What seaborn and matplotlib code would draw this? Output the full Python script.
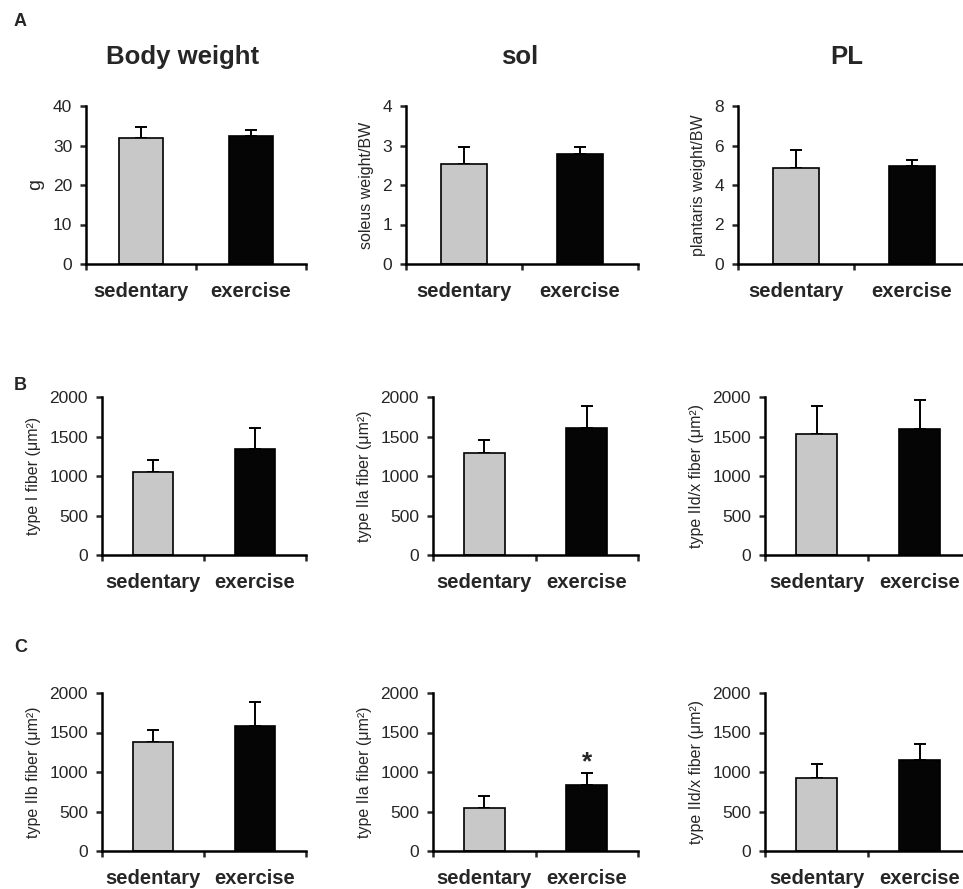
import pandas as pd
import seaborn as sns
import matplotlib.pyplot as plt

groups = ['sedentary', 'exercise']
bar_colors = ['#c8c8c8', '#050505']

# A: body weight and muscle weight / BW
bw_mean = [31.8, 32.5]
bw_err = [2.8, 1.3]
sol_mean = [2.53, 2.78]
sol_err = [0.43, 0.19]
pl_mean = [4.85, 4.98]
pl_err = [0.94, 0.27]

# B: fiber area, sol
solI_mean = [1047, 1346]
solI_err = [156, 266]
solIIa_mean = [1295, 1608]
solIIa_err = [161, 278]
solIIdx_mean = [1532, 1595]
solIIdx_err = [350, 363]

# C: fiber area, PL
plIIb_mean = [1380, 1586]
plIIb_err = [152, 300]
plIIa_mean = [548, 835]
plIIa_err = [152, 156]
plIIdx_mean = [920, 1148]
plIIdx_err = [177, 206]

sns.set_style('white')
plt.rcParams['font.family'] = ['Liberation Sans', 'DejaVu Sans']

W, H = 963, 889
fig = plt.figure(figsize=(W / 100, H / 100), dpi=100)


def panel(box, mean, err, ylim, yticks, ylabel, ylabel_size=11.5):
    l, t, r, b = box
    ax = fig.add_axes([l / W, 1 - b / H, (r - l) / W, (b - t) / H])
    df = pd.DataFrame({'group': groups, 'value': mean})
    sns.barplot(data=df, x='group', y='value', hue='group', palette=bar_colors,
                edgecolor='black', linewidth=1.2, width=0.4, legend=False, ax=ax)
    ax.errorbar([0, 1], mean, yerr=[[0, 0], err], fmt='none', ecolor='black',
                elinewidth=1.4, capsize=4.5, capthick=1.4, zorder=0.8)
    ax.set_xlim(-0.5, 1.5)
    ax.set_ylim(*ylim)
    ax.set_yticks(yticks)
    ax.set_xticks([0, 1])
    ax.set_xticklabels(groups, fontsize=14.5, fontweight='bold')
    ax.set_xticks([-0.5, 0.5, 1.5], minor=True)
    ax.tick_params(axis='x', which='major', length=0, pad=13)
    ax.tick_params(axis='x', which='minor', length=4, width=1.8, direction='out', bottom=True)
    ax.tick_params(axis='y', length=4, width=1.8, direction='out', left=True, labelsize=12.5, pad=6)
    ax.set_xlabel('')
    ax.set_ylabel(ylabel, fontsize=ylabel_size, labelpad=6)
    sns.despine(ax=ax)
    for s in ['left', 'bottom']:
        ax.spines[s].set_linewidth(1.8)
        ax.spines[s].set_color('black')
    return ax


fiber_ticks = [0, 500, 1000, 1500, 2000]

panel((86, 106, 306, 264), bw_mean, bw_err, (0, 40), [0, 10, 20, 30, 40], 'g', 14)
panel((406, 106, 638, 264), sol_mean, sol_err, (0, 4), [0, 1, 2, 3, 4], 'soleus weight/BW')
panel((738, 106, 970, 264), pl_mean, pl_err, (0, 8), [0, 2, 4, 6, 8], 'plantaris weight/BW')

panel((102, 397, 306, 555), solI_mean, solI_err, (0, 2000), fiber_ticks, 'type I fiber (μm²)')
panel((433, 397, 638, 555), solIIa_mean, solIIa_err, (0, 2000), fiber_ticks, 'type IIa fiber (μm²)')
panel((765, 397, 971, 555), solIIdx_mean, solIIdx_err, (0, 2000), fiber_ticks, 'type IId/x fiber (μm²)')

panel((102, 693, 306, 851), plIIb_mean, plIIb_err, (0, 2000), fiber_ticks, 'type IIb fiber (μm²)')
ax_c2 = panel((433, 693, 638, 851), plIIa_mean, plIIa_err, (0, 2000), fiber_ticks, 'type IIa fiber (μm²)')
panel((765, 693, 971, 851), plIIdx_mean, plIIdx_err, (0, 2000), fiber_ticks, 'type IId/x fiber (μm²)')

# significance mark
ax_c2.text(1, plIIa_mean[1] + plIIa_err[1] - 20, '*', ha='center', va='bottom',
           fontsize=19, fontweight='bold')

for txt, x in [('Body weight', 183), ('sol', 520), ('PL', 847)]:
    fig.text(x / W, 1 - 57 / H, txt, ha='center', va='center', fontsize=18.5, fontweight='bold')

for txt, y in [('A', 21), ('B', 385), ('C', 648)]:
    fig.text(14 / W, 1 - y / H, txt, ha='left', va='center', fontsize=13, fontweight='bold')

fig.savefig('out.png', dpi=100)
